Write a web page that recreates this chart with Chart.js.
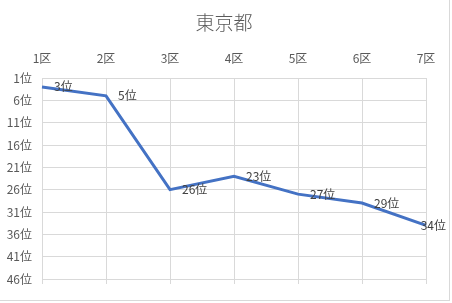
<!DOCTYPE html>
<html>
<head>
<meta charset="utf-8">
<script src="https://cdn.jsdelivr.net/npm/chart.js@4"></script>
<style>
  html, body { margin: 0; padding: 0; background: #fff; }
  #wrap { position: relative; width: 452px; height: 303px; }
  #frame { position: absolute; left: 0; top: 0; width: 449px; height: 300px;
           border-right: 1px solid #d9d9d9; border-bottom: 1px solid #d9d9d9; }
  canvas { position: absolute; left: 0; top: 0; }
</style>
</head>
<body>
<div id="wrap">
  <div id="frame"></div>
  <canvas id="rank-chart" width="452" height="303"></canvas>
</div>
<script>
// 東京都 ranking by ward
var chartTitle = '東京都';
var wards = ['1区', '2区', '3区', '4区', '5区', '6区', '7区'];
var ranks = [3, 5, 26, 23, 27, 29, 34];
var rankTicks = [1, 6, 11, 16, 21, 26, 31, 36, 41, 46];

var FONT = '"Noto Sans CJK JP", "Noto Sans", sans-serif';
var GRID = '#d9d9d9';

// title centred on the whole chart box (Excel style), not on the plot area
var chartHeading = {
    id: 'chartHeading',
    afterDraw: function(chart) {
        var ctx = chart.ctx;
        ctx.save();
        ctx.font = '300 19px ' + FONT;
        ctx.fillStyle = '#595959';
        ctx.textAlign = 'center';
        ctx.textBaseline = 'middle';
        ctx.fillText(chartTitle, 224, 22.5);
        ctx.restore();
    }
};

// draws "n位" just right of each point, kept inside the canvas
var rankLabels = {
    id: 'rankLabels',
    afterDatasetsDraw: function(chart) {
        var ctx = chart.ctx;
        var meta = chart.getDatasetMeta(0);
        ctx.save();
        ctx.font = '12px ' + FONT;
        ctx.fillStyle = '#404040';
        ctx.textBaseline = 'middle';
        ctx.textAlign = 'left';
        meta.data.forEach(function(pt, i) {
            var txt = ranks[i] + '位';
            var w = ctx.measureText(txt).width;
            var x = pt.x + 12;
            if (x + w > chart.width - 6) x = chart.width - 6 - w;
            ctx.fillText(txt, x, pt.y);
        });
        ctx.restore();
    }
};

new Chart(document.getElementById('rank-chart').getContext('2d'), {
    type: 'line',
    data: {
        labels: wards,
        datasets: [{
            data: ranks,
            borderColor: '#4472C4',
            backgroundColor: '#4472C4',
            borderWidth: 3,
            pointRadius: 0,
            tension: 0,
            fill: false,
            xAxisID: 'x',
            yAxisID: 'y'
        }]
    },
    options: {
        responsive: false,
        animation: false,
        devicePixelRatio: 1,
        layout: { padding: { left: 0, right: 26, top: 0, bottom: 19 } },
        plugins: {
            legend: { display: false },
            tooltip: { enabled: false },
            title: { display: false }
        },
        scales: {
            x: {
                type: 'category',
                position: 'top',
                offset: false,
                grid: { color: GRID, drawTicks: false },
                border: { display: false },
                ticks: { color: '#595959', padding: 12, font: { family: FONT, size: 12 }, maxRotation: 0 },
                afterFit: function(s) { s.height = 78; }
            },
            x2: {
                type: 'category',
                position: 'bottom',
                labels: wards,
                offset: false,
                grid: { color: GRID, drawOnChartArea: false, drawTicks: true, tickLength: 5 },
                border: { display: false },
                ticks: { display: false },
                afterFit: function(s) { s.height = 5; }
            },
            y: {
                reverse: true,
                min: 1,
                max: 46,
                grid: { color: GRID, drawTicks: false },
                border: { display: false },
                ticks: {
                    color: '#595959',
                    padding: 10,
                    font: { family: FONT, size: 12 },
                    callback: function(v) { return v + '位'; }
                },
                afterBuildTicks: function(s) {
                    s.ticks = rankTicks.map(function(v) { return { value: v }; });
                },
                afterFit: function(s) { s.width = 42; }
            }
        }
    },
    plugins: [rankLabels, chartHeading]
});
</script>
</body>
</html>
